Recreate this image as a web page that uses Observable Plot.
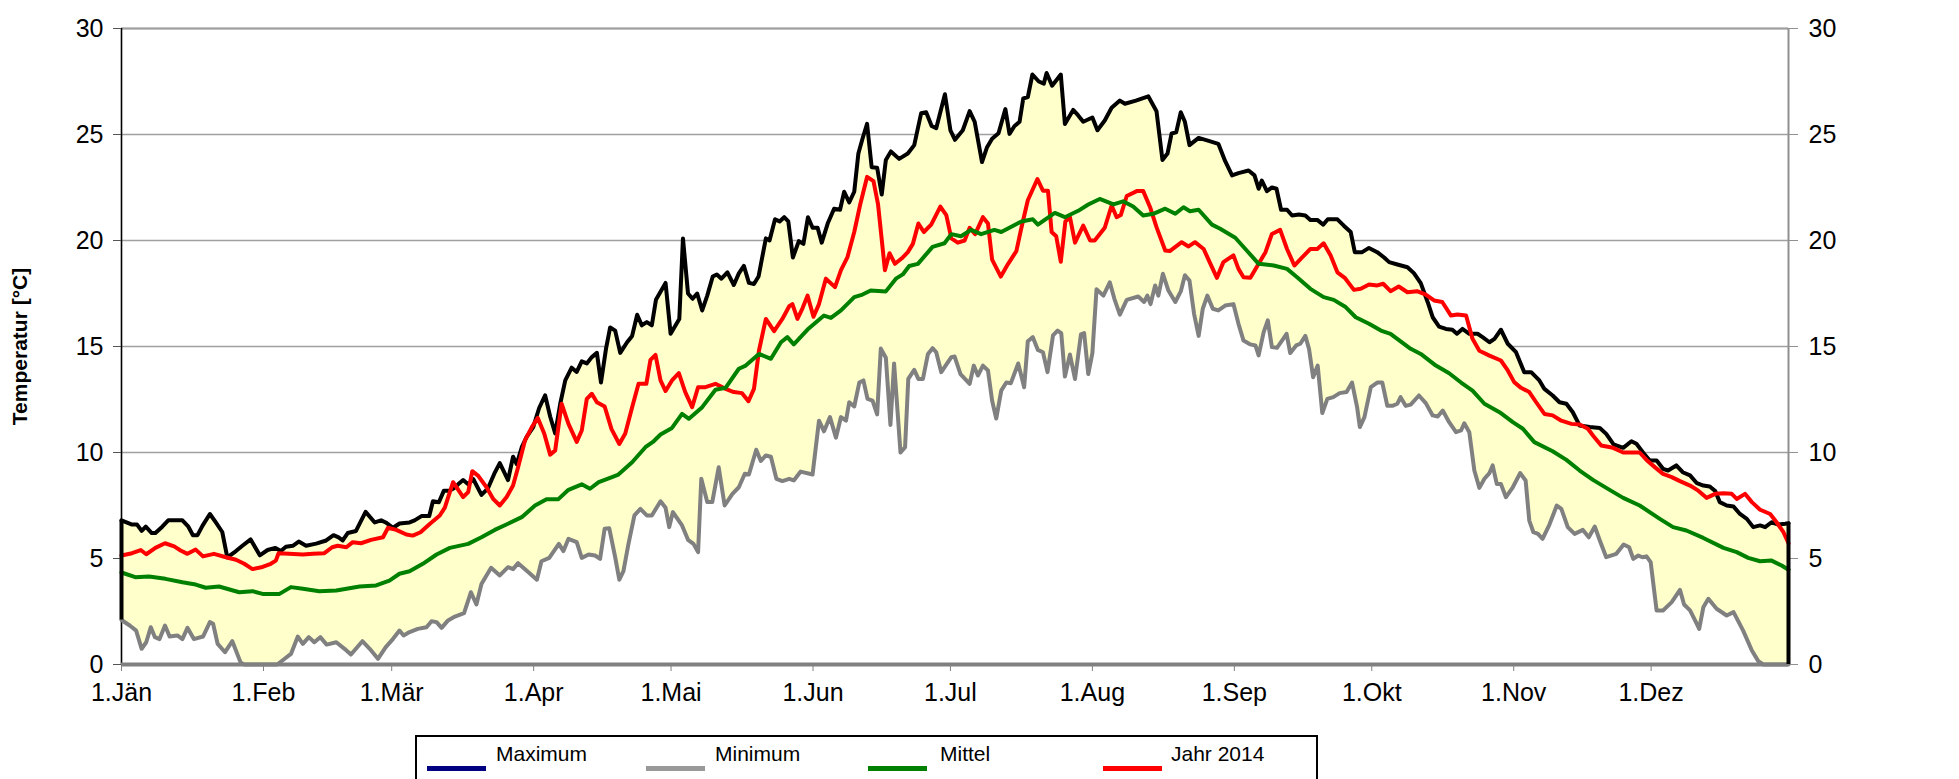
<!DOCTYPE html>
<html>
<head>
<meta charset="utf-8">
<script src="https://cdn.jsdelivr.net/npm/d3@7"></script>
<script src="https://cdn.jsdelivr.net/npm/@observablehq/plot@0.6"></script>
<style>
html,body{margin:0;padding:0;background:#fff;overflow:hidden;}
#wrap{position:relative;width:1959px;height:779px;font-family:"Liberation Sans",Arial,sans-serif;}
#legend{position:absolute;left:415px;top:735px;width:903px;height:70px;border:2px solid #000;box-sizing:border-box;background:#fff;}
#legend .sw{position:absolute;top:29px;width:59px;height:5px;}
#legend .lb{position:absolute;top:5px;font-size:21px;line-height:24px;color:#000;white-space:nowrap;}
</style>
</head>
<body>
<div id="wrap"><div id="chart"></div><div id="legend"></div></div>
<script>
// ---- data: [day of year (0 = 1 Jan), temperature °C] ----
const maximum = [
[0,6.8],[2.3,6.6],[3.4,6.6],[4.4,6.3],[5.3,6.5],[6.6,6.2],[7.4,6.2],[8.9,6.5],[10.2,6.8],[13.3,6.8],[14.6,6.5],[15.6,6.1],[16.6,6.1],[17.7,6.55],[19.3,7.1],[20.6,6.7],[22,6.25],[23.1,5.05],[25,5.35],[26.4,5.6],[28.2,5.9],[30.2,5.15],[31.9,5.4],[33.6,5.5],[34.8,5.35],[35.9,5.55],[37.4,5.6],[38.7,5.8],[40.3,5.6],[42.5,5.7],[44.7,5.85],[46.3,6.1],[47.4,6.0],[48.3,5.85],[49.4,6.2],[51.2,6.3],[53.3,7.2],[55.3,6.7],[56.7,6.8],[57.7,6.7],[59.3,6.45],[60.7,6.65],[62.9,6.7],[64,6.8],[65.5,7.0],[67.2,7.0],[68,7.7],[69.3,7.65],[70.4,8.2],[71.7,8.2],[72.8,8.35],
[73.5,8.5],[74.6,8.7],[75.7,8.5],[76.8,8.75],[78.6,8.0],[80,8.3],[81.4,9.0],[82.6,9.5],[84.4,8.7],[85.5,9.8],[86.3,9.45],[87.4,10.25],[88.5,10.75],[89.9,11.2],[91.2,12.1],[92.5,12.7],[93.6,11.7],[94.7,10.9],[95.8,12.3],[96.9,13.4],[98.3,14.0],[99.4,13.8],[100.5,14.3],[101.6,14.2],[102.7,14.5],[103.8,14.7],[104.7,13.3],[105.8,14.9],[106.7,15.9],[107.8,15.75],[108.9,14.7],[110.4,15.2],[111.5,15.5],[112.6,16.5],[113.6,16.0],[114.7,16.15],[115.8,16.0],[116.7,17.2],[118.8,18.0],[119.9,15.6],[121.8,16.3],[122.6,20.1],[123.7,17.5],[124.7,17.25],[125.7,17.5],[126.8,16.7],[127.9,17.4],[129.1,18.3],[130,18.4],[131,18.2],[132.3,18.5],[133.7,17.9],[134.8,18.45],[135.9,18.8],[137,18.0],[138.1,17.95],[139.1,18.3],[140.7,20.1],[141.5,20.0],[142.7,21.0],[143.7,20.9],[144.7,21.1],[145.6,20.9],[146.6,19.2],
[147.9,19.97],[148.9,19.84],[149.9,21.1],[150.9,20.6],[152,20.6],[152.9,19.9],[154.2,20.8],[155.6,21.5],[156.9,21.45],[157.8,22.3],[158.9,21.8],[160,22.3],[160.9,24.1],[161.8,24.8],[162.8,25.5],[163.8,23.46],[165,23.43],[166,22.17],[166.9,23.8],[168,24.2],[169.8,23.85],[171.7,24.1],[173.1,24.5],[174.6,26.0],[175.7,26.05],[176.9,25.4],[177.9,25.3],[179.8,26.9],[181,25.2],[182,24.75],[183.7,25.2],[185.2,26.1],[186.3,25.6],[187.9,23.7],[189,24.4],[190.1,24.8],[191.5,25.06],[193,26.2],[193.9,25.03],[195,25.4],[196.1,25.6],[196.9,26.7],[197.9,26.76],[198.9,27.83],[200.3,27.5],[201.4,27.4],[202,27.9],[203.2,27.3],[205.1,27.83],[206,25.5],[207.8,26.16],[208.9,25.9],[210,25.6],[212,25.8],[213.1,25.2],[214.7,25.66],[216.2,26.26],[218,26.6],[219.1,26.45],[221.5,26.6],[224.2,26.8],[226,26.1],[227.3,23.8],[228.4,24.1],[229.3,25.05],[230.3,25.1],[231.3,26.05],[232.2,25.6],[233.2,24.5],[235.2,24.84],[237.4,24.7],[239.5,24.56],[241,23.74],[242.5,23.07],[243.9,23.18],[246.1,23.3],[247.4,23.07],[248.3,22.44],[249,22.83],[250.1,22.33],[251.2,22.5],[252.2,22.44],[253.2,21.45],[254.5,21.45],[255.6,21.18],[257.1,21.23],[258.5,21.18],[259.6,20.97],[261.1,20.97],[262.4,20.75],[263.4,21.0],[265.5,21.0],[266.9,20.7],[268.4,20.4],[269.3,19.45],[270.9,19.45],[272.4,19.65],[274.2,19.45],[275.7,19.2],[276.8,18.98],[278.6,18.87],[280.8,18.74],[282.2,18.46],[283.7,17.99],[285.2,17.1],[286.3,16.38],[287.7,15.94],[289.2,15.83],[290.6,15.79],[291.6,15.6],[292.8,15.83],
[294.3,15.6],[296.1,15.6],[297.2,15.44],[298.7,15.2],[299.8,15.36],[301.2,15.79],[302.7,15.13],[304.5,14.73],[306.3,13.79],[307.8,13.79],[309.6,13.4],[310.7,13.0],[312.5,12.69],[314,12.37],[315.5,12.3],[316.9,11.9],[318.4,11.27],[320.6,11.2],[322.8,11.16],[324.2,10.88],[325.8,10.38],[327.9,10.22],[329.7,10.53],[330.8,10.41],[332.6,9.9],[333.7,9.62],[335.2,9.62],[336.6,9.23],[337.7,9.15],[339.5,9.39],[340.9,9.07],[342.5,8.92],[344,8.55],[345.4,8.44],[346.8,8.4],[348,8.18],[349,7.66],[350.5,7.5],[352,7.45],[353.4,7.1],[354.9,6.87],[356.3,6.48],[357.8,6.56],[358.9,6.48],[360.3,6.71],[361.8,6.6],[363.3,6.64],[364,6.67]
];
const minimum = [
[0,2.1],[1.8,1.84],[3.2,1.6],[4.4,0.74],[5.4,1.05],[6.4,1.76],[7.3,1.29],[8.3,1.2],[9.5,1.84],[10.5,1.32],[12.2,1.37],[13.3,1.2],[14.4,1.73],[15.8,1.2],[17.8,1.32],[19.3,2.0],[20,1.92],[21,0.97],[22.6,0.58],[24.2,1.1],[26,0.1],[26.8,0],[34,0],[35.2,0.2],[37,0.5],[38.5,1.32],[39.6,0.97],[40.9,1.29],[42.1,1.05],[43.4,1.29],[44.8,0.94],[46.9,1.05],[48.7,0.74],[50.1,0.47],[52.6,1.1],[54.2,0.74],[56,0.27],[57.7,0.82],[59.3,1.21],[60.7,1.6],[61.6,1.37],[62.9,1.53],[64.7,1.68],[66.6,1.76],[67.7,2.04],[68.8,2.0],[69.9,1.73],[71.3,2.08],[72.8,2.26],
[74.8,2.42],[76.3,3.41],[77.5,2.83],[78.6,3.8],[80.7,4.56],[82.6,4.2],[84.4,4.59],[85.5,4.5],[86.6,4.78],[88.8,4.36],[90.7,4.0],[91.7,4.87],[93.4,5.03],[95.5,5.69],[96.5,5.35],[97.6,5.93],[99.4,5.77],[100.5,5.03],[102,5.19],[103.4,5.14],[104.5,4.98],[105.5,6.4],[106.5,6.43],[107.8,5.06],[108.7,4.0],[109.6,4.4],[110.7,5.69],[112,7.03],[113.3,7.34],[114.7,7.03],[115.8,7.03],[117.7,7.7],[118.8,7.39],[119.6,6.48],[120.4,7.19],[122.4,6.56],[123.7,5.88],[124.9,5.69],[125.9,5.3],[126.6,8.76],[127.9,7.66],[129,7.66],[130.4,9.3],[131.7,7.5],[133.4,8.05],[134.8,8.36],[136.1,9.0],[137,8.96],[138.6,10.13],[139.6,9.6],[140.7,9.86],[141.8,9.8],[143,8.76],[144.3,8.65],[145.8,8.76],
[146.8,8.68],[148.3,9.1],[150.9,8.96],[152.3,11.5],[153.4,11.0],[154.7,11.67],[156,10.7],[157.1,11.67],[158.2,11.5],[158.9,12.37],[160,12.17],[161.1,13.3],[162,13.4],[162.9,12.53],[164,12.45],[165,11.8],[165.8,14.9],[166.9,14.47],[167.9,11.3],[168.7,14.2],[170.1,10.0],[171.1,10.25],[171.8,13.47],[173.1,13.9],[174,13.47],[175,13.47],[176.1,14.65],[177.1,14.92],[177.9,14.73],[179,13.79],[181.2,14.5],[181.9,14.53],[183.2,13.7],[185.2,13.24],[186.1,14.1],[187,13.63],[188.1,14.1],[189.2,13.87],[190.1,12.45],[191,11.6],[192.1,12.92],[193.2,13.3],[194.2,13.27],[195.8,14.2],[197.1,13.08],[197.9,15.25],[199,15.44],[200.1,14.84],[201.2,14.73],[202.2,13.79],[203.4,15.52],[204.4,15.75],[205.2,15.63],[206,13.58],[207.1,14.62],[208.2,13.47],[209.5,15.57],[210.2,15.63],[211.1,13.7],[212,14.69],[212.9,17.7],[214.4,17.4],[215.8,18.03],[216.8,17.25],[218,16.5],[219.5,17.2],
[222,17.36],[223.3,17.1],[224,17.4],[224.7,17.0],[225.7,17.88],[226.4,17.4],[227.4,18.43],[228.6,17.64],[230.1,17.1],[231.3,17.6],[232.2,18.36],[233.2,18.11],[234.2,16.54],[235.2,15.5],[236.1,16.78],[237.1,17.4],[238.3,16.78],[239.5,16.7],[241,16.93],[242.8,17.0],[243.9,16.07],[245,15.28],[246.5,15.1],[247.6,15.05],[248.3,14.58],[249.4,15.68],[250.3,16.23],[251.2,14.97],[252.3,14.94],[253.4,15.28],[254.4,15.6],[255.2,14.69],[256.5,15.05],[257.4,15.13],[258.5,15.5],[259.3,14.89],[260.2,13.55],[261.2,14.1],[262.2,11.86],[263.3,12.53],[264.6,12.61],[266,12.8],[267.5,12.85],[268.7,13.3],[269.8,12.14],[270.4,11.2],[271.4,11.67],[272.8,13.08],[274.2,13.3],[275.3,13.3],[276.4,12.2],[277.5,12.2],[278.6,12.3],[279.3,12.61],[280.4,12.2],[281.5,12.26],[283.3,12.69],[284.8,12.33],[286.3,11.75],[287.4,11.7],[288.5,11.98],[289.9,11.43],[291.4,10.96],[292.5,11.04],
[293.2,11.38],[294.3,10.96],[295.4,9.15],[296.5,8.33],[297.6,8.76],[298.7,9.03],[299.4,9.39],[300.3,8.52],[301.2,8.52],[302.3,7.89],[303.8,8.36],[305.4,9.03],[306.6,8.68],[307.4,6.79],[308.3,6.24],[309.3,6.16],[310.3,5.93],[311.8,6.6],[313.4,7.5],[314.4,7.34],[315.8,6.48],[317.3,6.16],[319.1,6.35],[320.4,6.0],[321.7,6.51],[322.8,5.85],[324.2,5.06],[326.4,5.22],[328,5.66],[329.2,5.53],[330.1,4.98],[331.2,5.14],[332.1,5.06],[333,5.1],[333.9,4.83],[335.2,2.55],[336.6,2.55],[338.5,2.94],[340.3,3.52],[341.2,2.83],[342.5,2.55],[343.6,2.08],[344.5,1.68],[345.4,2.7],[346.5,3.1],[348.3,2.63],[350.5,2.31],[352,2.47],[354.1,1.6],[356,0.66],[357.4,0.16],[358.5,0],[364,0]
];
const mittel = [
[0,4.34],[3,4.12],[6,4.15],[9.6,4.04],[13.3,3.88],[16.2,3.77],[18.4,3.62],[21.3,3.68],[25.7,3.41],[28.6,3.46],[30.8,3.33],[34.5,3.33],[37,3.65],[39.6,3.57],[43.2,3.46],[46.9,3.49],[52,3.68],[55.6,3.73],[58.5,3.96],[60.7,4.28],[62.9,4.4],[65.8,4.75],[68.8,5.19],[71.7,5.5],[75.7,5.69],[78.6,6.0],[81.5,6.35],[84.4,6.64],[87.4,6.95],[90.3,7.5],[92.8,7.8],[95.4,7.8],[97.6,8.24],[100.5,8.5],[102.3,8.29],[104.2,8.6],[107.1,8.84],[108.5,8.96],[111.5,9.54],[114.4,10.25],[116.2,10.53],[117.7,10.85],[120.2,11.16],[122.4,11.82],[123.9,11.59],[126.8,12.14],[129.7,12.96],[131.9,13.05],[134.8,13.95],[136.3,14.1],[139.2,14.65],[141.8,14.42],[144,15.2],[145.4,15.44],[146.8,15.1],[149.8,15.8],[153.4,16.46],[154.9,16.35],[157.1,16.7],[160,17.33],[161.8,17.45],[163.6,17.64],[166.9,17.6],[169.1,18.2],[170.6,18.4],[172,18.8],[173.9,18.9],[177.1,19.7],[179.7,19.87],[181.2,20.3],[183.3,20.2],[185.5,20.5],[187.7,20.3],[190.6,20.5],[192.1,20.4],[196.5,20.9],[199,21.0],[200.1,20.75],[203.8,21.3],[206,21.1],[208.9,21.4],[211.1,21.7],[213.6,21.96],[216.6,21.7],[218.7,21.85],[220.9,21.6],[223.1,21.18],[225.3,21.26],[227.9,21.5],[230.1,21.26],[231.9,21.57],[233.3,21.38],[235.2,21.45],[238.1,20.75],[239.9,20.55],[243.2,20.13],[245.7,19.53],[248.3,18.9],[251.6,18.82],[254.5,18.66],[256.7,18.27],[259.6,17.72],[262.5,17.33],[264.7,17.2],[267.3,16.86],[269.5,16.38],[272.4,16.07],[275,15.75],[277.1,15.6],[281.5,14.89],[283.7,14.65],[287,14.1],[289.9,13.74],[292.5,13.3],[295,12.92],[297.6,12.3],[300.9,11.9],[303.8,11.43],[306,11.12],[308.5,10.49],[312.5,10.06],[315.5,9.65],[318.4,9.15],[321.3,8.71],[324.2,8.33],[327.9,7.86],[331.5,7.5],[335.9,6.87],[338.8,6.48],[341.7,6.32],[345.4,5.97],[349.8,5.5],[352.7,5.3],[355.2,5.03],[357.8,4.87],[360.3,4.9],[362.5,4.67],[364,4.47]
];
const jahr2014 = [
[0,5.14],[2.3,5.25],[4.2,5.4],[5.4,5.2],[7.4,5.5],[9.5,5.72],[11.5,5.57],[12.9,5.38],[14.4,5.22],[16.2,5.42],[17.8,5.1],[20.2,5.22],[22.8,5.06],[25,4.94],[26.8,4.75],[28.6,4.5],[30.8,4.6],[32.6,4.75],[33.7,4.9],[34.3,5.25],[36.6,5.22],[39.6,5.19],[41.8,5.22],[44.3,5.25],[46,5.53],[47.2,5.6],[49.1,5.53],[50.5,5.77],[52.3,5.72],[54.5,5.88],[57.1,6.0],[58.2,6.45],[60,6.35],[62.2,6.13],[63.6,6.08],[65.3,6.24],[67.3,6.63],[69.5,7.03],[70.6,7.4],[72.4,8.6],[74.6,7.9],[75.7,8.13],[76.6,9.12],[77.9,8.9],[79.7,8.36],[81.2,7.8],[82.6,7.5],[84.1,7.9],[85.5,8.44],[86.6,9.3],[88.1,10.57],[89.6,11.2],[90.9,11.63],[92.3,10.9],[93.6,9.9],[94.7,10.1],[96.1,12.3],[97.6,11.35],[99.4,10.5],[100.5,11.04],[101.6,12.53],[102.7,12.77],[103.8,12.37],[105.5,12.17],[107,11.1],[108.7,10.4],[110,10.9],[111.5,12.14],[112.9,13.24],[114.6,13.24],[115.5,14.37],[116.6,14.6],[117.7,13.4],[118.8,12.9],[120.2,13.4],[121.7,13.74],[123.1,12.85],[124.6,12.14],[125.9,13.08],[127.5,13.08],[129.7,13.24],[131.9,13.0],[133.7,12.85],[135.5,12.8],[136.9,12.42],[138.1,13.0],[139.2,14.81],[140.7,16.3],[142.5,15.72],[144.3,16.3],[145.8,16.9],[146.5,17.0],[147.6,16.3],[148.7,16.8],[149.8,17.4],[151.1,16.4],[152.3,17.0],[153.8,18.2],[155.8,17.8],[157.1,18.6],[158.5,19.2],[160,20.4],[161.3,21.7],[162.8,23.0],[164.2,22.8],[165.2,21.7],[166.7,18.6],[167.7,19.4],[168.9,18.9],[170.6,19.2],[171.7,19.45],[172.8,19.84],[174,20.8],[175.2,20.4],[176.8,20.75],[178.8,21.6],[180.1,21.2],[181.2,20.1],[182.6,19.9],[184.1,20.0],[185.2,20.6],[186.4,20.3],[188.1,21.1],[189.2,20.8],[190.1,19.1],[192,18.3],[193.6,18.9],[195.4,19.5],[196.5,20.6],[197.9,21.9],[200,22.9],[201.2,22.35],[202.3,22.35],[203.1,20.4],[204.1,20.2],[205.1,19.0],[206.1,20.9],[207.1,21.1],[208.2,19.9],[210,20.7],[211.5,20.0],[212.5,20.0],[214.7,20.6],[216.2,21.65],[217.3,21.1],[218.2,21.2],[219.5,22.1],[221.7,22.33],[223.1,22.33],[224.6,21.57],[226,20.63],[227.9,19.53],[228.9,19.5],[231.5,19.92],[233,19.72],[234.4,19.92],[236.3,19.6],[237.6,18.98],[239.2,18.24],[240.6,18.98],[242.8,19.3],[243.9,18.66],[245,18.27],[246.5,18.24],[248.3,18.9],[249.8,19.45],[251.2,20.31],[253,20.5],[254.5,19.6],[256.1,18.82],[257.8,19.2],[259.6,19.6],[261.1,19.6],[262.5,19.87],[264,19.3],[265.5,18.5],[267.1,18.24],[269.1,17.67],[270.6,17.72],[272.4,17.92],[274.2,17.88],[275.5,17.96],[277.1,17.61],[278.9,17.83],[280.8,17.56],[282.9,17.61],[284.8,17.45],[286.6,17.17],[288.4,17.1],[290.3,16.46],[291.7,16.51],[293.6,16.46],[295,15.36],[296.5,14.8],[298.7,14.57],[301.2,14.34],[302.7,13.87],[304.1,13.32],[305.6,13.05],[307.4,12.85],[308.9,12.37],[310.7,11.82],[312.5,11.75],[314.4,11.5],[316.6,11.35],[318.4,11.32],[320.2,11.12],[321.3,10.8],[323.1,10.33],[325.7,10.22],[327.9,10.0],[331.5,10.0],[333,9.65],[334.8,9.31],[336.6,8.99],[338.5,8.84],[340.3,8.65],[342.5,8.44],[344.3,8.2],[346.1,7.86],[348,8.05],[349.8,8.08],[351.6,8.05],[352.7,7.81],[354.5,8.05],[356,7.66],[357.8,7.3],[360,7.1],[361.4,6.71],[362.9,6.24],[364,5.72]
];
const monthStarts = [0,31,59,90,120,151,181,212,243,273,304,334];
const monthLabels = ["1.Jän","1.Feb","1.Mär","1.Apr","1.Mai","1.Jun","1.Jul","1.Aug","1.Sep","1.Okt","1.Nov","1.Dez"];
const yTicks = [0,5,10,15,20,25,30];
const yTitle = "Temperatur [°C]";
const seriesNames = ["Maximum","Minimum","Mittel","Jahr 2014"];
const seriesColors = ["#000080","#999999","#008000","#ff0000"];

// ---- chart ----
const X = d => d[0], Y = d => d[1];
const last = maximum.length - 1;
const ends = [
  {d: maximum[0][0], lo: minimum[0][1], hi: maximum[0][1]},
  {d: maximum[last][0], lo: minimum[minimum.length-1][1], hi: maximum[last][1]}
];
const font = "'Liberation Sans', Arial, sans-serif";
const lw = 4;

const chart = Plot.plot({
  width: 1959, height: 779,
  marginLeft: 121, marginRight: 171, marginTop: 28, marginBottom: 115,
  x: {domain: [0, 364]},
  y: {domain: [0, 30]},
  style: {fontFamily: font, background: "#fff", color: "#000"},
  marks: [
    Plot.ruleY(yTicks.filter(v => v > 0), {stroke: "#a0a0a0", strokeWidth: 1.6}),
    Plot.areaY(maximum, {x: X, y: Y, fill: "#ffffcc"}),
    Plot.areaY(minimum, {x: X, y: Y, fill: "#ffffff"}),
    Plot.ruleY([30], {stroke: "#a0a0a0", strokeWidth: 2.2}),
    Plot.ruleX([0], {stroke: "#000", strokeWidth: 1.6}),
    Plot.ruleX([364], {stroke: "#909090", strokeWidth: 2}),
    Plot.axisY({anchor: "left", ticks: yTicks, tickSize: 8, tickPadding: 10, fontSize: 25, stroke: "#555", label: null}),
    Plot.axisY({anchor: "right", ticks: yTicks, tickSize: 9, tickPadding: 11, fontSize: 25, stroke: "#909090", label: null}),
    Plot.axisX({ticks: monthStarts, tickFormat: d => monthLabels[monthStarts.indexOf(d)], tickSize: 7, tickPadding: 12, fontSize: 25, stroke: "#808080", label: null}),
    Plot.text([yTitle], {frameAnchor: "left", dx: -101, rotate: -90, textAnchor: "middle", fontWeight: "bold", fontSize: 21}),
    Plot.line(minimum, {x: X, y: Y, stroke: "#808080", strokeWidth: lw, strokeLinejoin: "round"}),
    Plot.line(maximum, {x: X, y: Y, stroke: "#000", strokeWidth: lw, strokeLinejoin: "round"}),
    Plot.line(jahr2014, {x: X, y: Y, stroke: "#ff0000", strokeWidth: lw, strokeLinejoin: "round"}),
    Plot.line(mittel, {x: X, y: Y, stroke: "#008000", strokeWidth: lw, strokeLinejoin: "round"}),
    Plot.ruleY([0], {stroke: "#808080", strokeWidth: 4}),
    Plot.ruleX(ends, {x: "d", y1: "lo", y2: "hi", stroke: "#000", strokeWidth: lw})
  ]
});
document.getElementById("chart").appendChild(chart);

// ---- legend ----
const legend = document.getElementById("legend");
const swLeft = [10, 229, 451, 686];
const lbLeft = [79, 298, 523, 754];
seriesNames.forEach((name, i) => {
  const sw = document.createElement("div");
  sw.className = "sw"; sw.style.left = swLeft[i] + "px"; sw.style.background = seriesColors[i];
  const lb = document.createElement("div");
  lb.className = "lb"; lb.style.left = lbLeft[i] + "px"; lb.textContent = name;
  legend.appendChild(sw); legend.appendChild(lb);
});
</script>
</body>
</html>
